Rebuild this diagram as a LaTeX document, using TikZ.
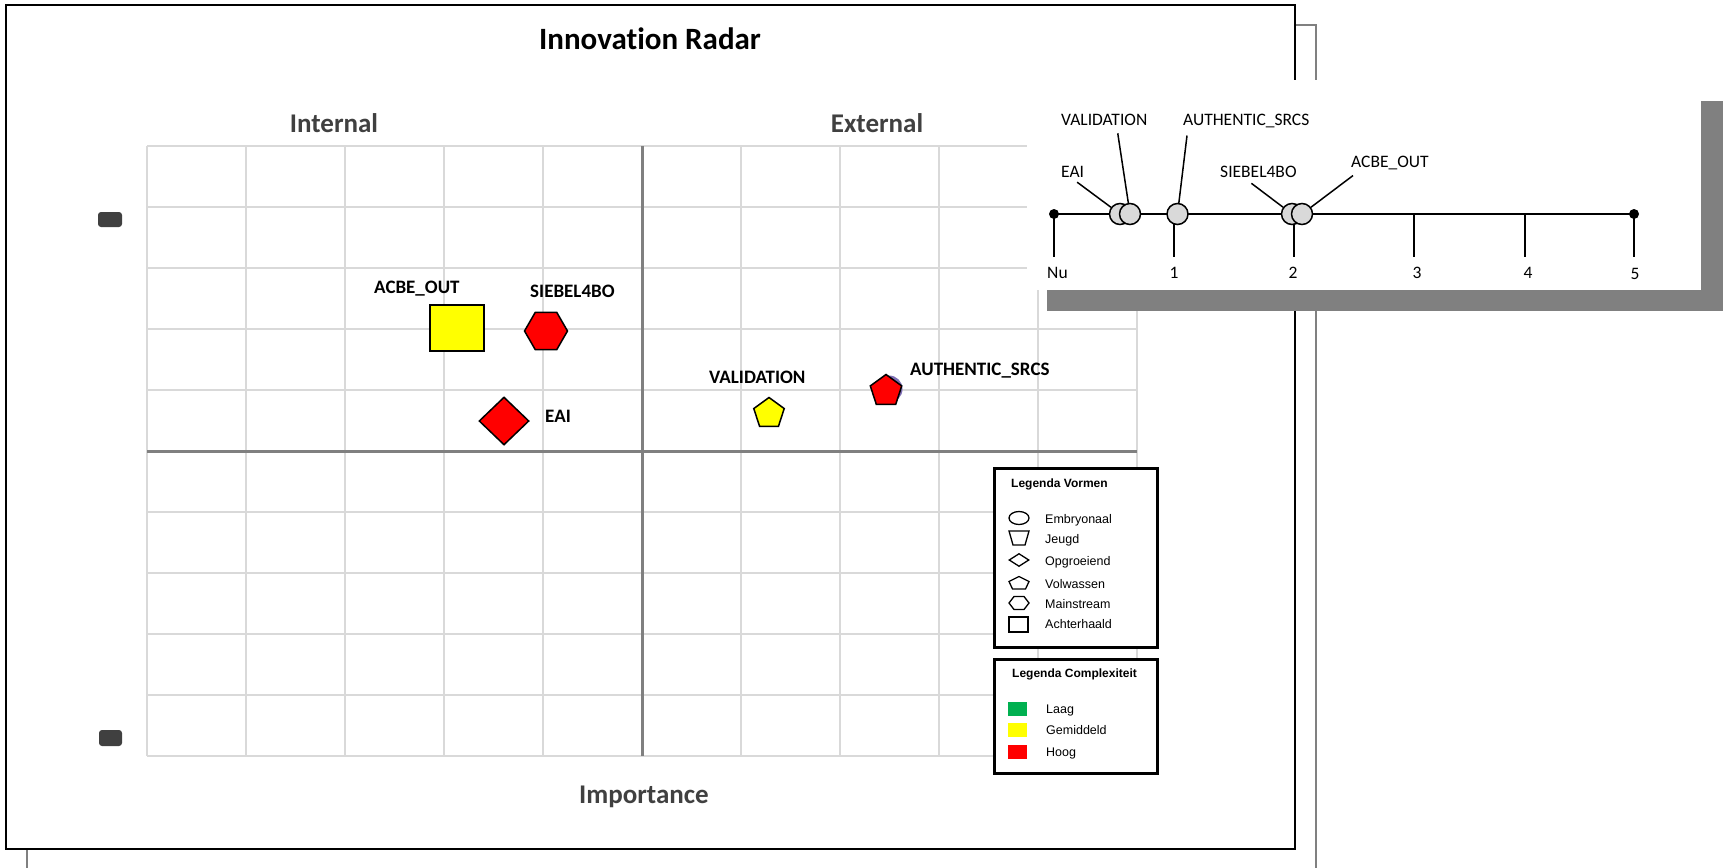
\documentclass[tikz,border=0pt]{standalone}
\usepackage{fontspec}
\setmainfont{Carlito}[Ligatures=NoCommon]
\newfontfamily\arialfont{Liberation Sans}
\usetikzlibrary{shapes.geometric}

\definecolor{gridgray}{HTML}{D9D9D9}
\definecolor{axisgray}{HTML}{808080}
\definecolor{labgray}{HTML}{404040}
\definecolor{dotgray}{HTML}{D9D9D9}
\definecolor{hoog}{HTML}{FF0000}
\definecolor{gemiddeld}{HTML}{FFFF00}
\definecolor{laag}{HTML}{00B050}
\definecolor{purp}{HTML}{7F6FB5}

\begin{document}
\begin{tikzpicture}[x=1pt, y=-1pt]

\tikzstyle{every node} = [inner sep=0]
\tikzstyle{gridln} = [draw=gridgray, line width=2pt]
\tikzstyle{axisln} = [draw=axisgray, line width=3pt]
\tikzstyle{quad} = [text=labgray, font=\bfseries\fontsize{27}{32}\selectfont, anchor=base]
\tikzstyle{itemlbl} = [font=\bfseries\fontsize{19}{23}\selectfont, anchor=base west]
\tikzstyle{item} = [draw=black, line width=1.5pt]
\tikzstyle{tllbl} = [font=\fontsize{17.5}{20}\selectfont, anchor=base west]
\tikzstyle{ticklbl} = [font=\fontsize{17.5}{20}\selectfont, anchor=base]
\tikzstyle{dot} = [circle, draw=black, line width=1.5pt, fill=dotgray, minimum size=21pt]
\tikzstyle{leader} = [line width=1.5pt]
\tikzstyle{legbox} = [draw=black, line width=3pt, fill=white]
\tikzstyle{legtitle} = [font=\arialfont\bfseries\fontsize{12}{14}\selectfont, anchor=base west]
\tikzstyle{legtxt} = [font=\arialfont\fontsize{12.5}{15}\selectfont, anchor=base west]
\tikzstyle{legsym} = [draw=black, line width=1.3pt]

\useasboundingbox (0,0) rectangle (1723,867);
\fill[white] (0,0) rectangle (1723,867);

% sheets
\draw[axisgray, line width=1.5pt] (27,25) rectangle (1316,880);
\draw[black, line width=2pt, fill=white] (6,5) rectangle (1295,849);

% grid
\foreach \i in {0,...,10} {
  \draw[gridln] (147+99*\i,146) -- (147+99*\i,756);
  \draw[gridln] (147,146+61*\i) -- (1137,146+61*\i);
}
\draw[axisln] (642,146) -- (642,756);
\draw[axisln] (147,451) -- (1137,451);

\node[font=\bfseries\fontsize{31}{36}\selectfont, anchor=base] (title) at (650,50) {Innovation Radar};
\node[quad] (internal) at (334,132) {Internal};
\node[quad] (external) at (877,132) {External};
\node[quad] (importance) at (644,803) {Importance};

% axis marks
\fill[labgray, rounded corners=3pt] (98,212) rectangle (122,227);
\fill[labgray, rounded corners=3pt] (99,730) rectangle (122,746);

% items
\node[item, rectangle, fill=gemiddeld, minimum width=54pt, minimum height=46pt] (acbe) at (457,328) {};
\node[item, regular polygon, regular polygon sides=6, fill=hoog, minimum size=43pt] (siebel) at (546,331) {};
\node[item, diamond, fill=hoog, minimum width=50pt, minimum height=48pt] (eai) at (504,421) {};
\node[item, regular polygon, regular polygon sides=5, fill=gemiddeld, minimum size=32pt] (validation) at (769,413.5) {};
\node[circle, fill=purp, minimum size=27pt] (authbg) at (889,389) {};
\node[item, regular polygon, regular polygon sides=5, fill=hoog, minimum size=33pt] (authentic) at (886,391) {};

\node[itemlbl] (lacbe) at (374,293) {ACBE\_OUT};
\node[itemlbl] (lsiebel) at (530,297) {SIEBEL4BO};
\node[itemlbl] (leai) at (545,422) {EAI};
\node[itemlbl] (lvalidation) at (709,383) {VALIDATION};
\node[itemlbl] (lauthentic) at (910,375) {AUTHENTIC\_SRCS};

% legenda vormen
\draw[legbox] (994,468) rectangle (1157,647);
\node[legtitle] (vormen) at (1011,487) {Legenda Vormen};

\node[legsym, ellipse, minimum width=20pt, minimum height=13pt] (semb) at (1019,518) {};
\coordinate (sjeu) at (1019,538);
\draw[legsym] ([shift={(-10,-7)}]sjeu) -- ([shift={(10,-7)}]sjeu) -- ([shift={(6,7)}]sjeu) -- ([shift={(-6,7)}]sjeu) -- cycle;
\node[legsym, diamond, minimum width=20pt, minimum height=13pt] (sopg) at (1019,560) {};
\coordinate (svol) at (1019,583);
\draw[legsym] ([shift={(0,-6.5)}]svol) -- ([shift={(10,-1.5)}]svol) -- ([shift={(6.5,6)}]svol) -- ([shift={(-6.5,6)}]svol) -- ([shift={(-10,-1.5)}]svol) -- cycle;
\coordinate (smai) at (1019,603);
\draw[legsym] ([shift={(-10,0)}]smai) -- ([shift={(-5,-6.5)}]smai) -- ([shift={(5,-6.5)}]smai) -- ([shift={(10,0)}]smai) -- ([shift={(5,6.5)}]smai) -- ([shift={(-5,6.5)}]smai) -- cycle;
\node[legsym, rectangle, minimum width=19pt, minimum height=15pt] (sach) at (1018.5,624.5) {};

\node[legtxt] (temb) at (1045,523) {Embryonaal};
\node[legtxt] (tjeu) at (1045,543) {Jeugd};
\node[legtxt] (topg) at (1045,565) {Opgroeiend};
\node[legtxt] (tvol) at (1045,588) {Volwassen};
\node[legtxt] (tmai) at (1045,608) {Mainstream};
\node[legtxt] (tach) at (1045,628) {Achterhaald};

% legenda complexiteit
\draw[legbox] (994,659) rectangle (1157,773);
\node[legtitle] (complex) at (1012,677) {Legenda Complexiteit};

\node[fill=laag, minimum width=19pt, minimum height=14pt] (claag) at (1017.5,709) {};
\node[fill=gemiddeld, minimum width=19pt, minimum height=14pt] (cgem) at (1017.5,729.5) {};
\node[fill=hoog, minimum width=19pt, minimum height=14pt] (choog) at (1017.5,751.5) {};

\node[legtxt] (tlaag) at (1046,713) {Laag};
\node[legtxt] (tgem) at (1046,734) {Gemiddeld};
\node[legtxt] (thoog) at (1046,756) {Hoog};

% timeline panel
\fill[axisgray] (1047,101) rectangle (1723,311);
\fill[white] (1027,80) rectangle (1701,290);

\coordinate (t0) at (1054,214);
\coordinate (t1) at (1174,214);
\coordinate (t2) at (1294,214);
\coordinate (t3) at (1414,214);
\coordinate (t4) at (1525,214);
\coordinate (t5) at (1634,214);

\draw[line width=2pt] (t0) -- (t5);
\foreach \t in {t0,t1,t2,t3,t4,t5}
  \draw[line width=2pt] (\t) -- ++(0,43);
\node[circle, fill=black, minimum size=10pt] (e0) at (t0) {};
\node[circle, fill=black, minimum size=10pt] (e5) at (t5) {};

\node[tllbl] (n0) at (1047,278) {Nu};
\node[ticklbl] (n1) at (1174,278) {1};
\node[ticklbl] (n2) at (1293,278) {2};
\node[ticklbl] (n3) at (1417,278) {3};
\node[ticklbl] (n4) at (1528,278) {4};
\node[ticklbl] (n5) at (1635,279) {5};

\node[dot] (ceai) at (1120,214) {};
\node[dot] (cval) at (1130,214) {};
\node[dot] (cauth) at (1177.5,214) {};
\node[dot] (csieb) at (1292,214) {};
\node[dot] (cacbe) at (1302,214) {};

\node[tllbl] (tleai) at (1061,177) {EAI};
\node[tllbl] (tlval) at (1061,125) {VALIDATION};
\node[tllbl] (tlauth) at (1183,125) {AUTHENTIC\_SRCS};
\node[tllbl] (tlsieb) at (1220,177) {SIEBEL4BO};
\node[tllbl] (tlacbe) at (1351,167) {ACBE\_OUT};

\draw[leader] ([xshift=4.5pt,yshift=-5pt]tleai.south) -- (ceai);
\draw[leader] ([xshift=13.5pt,yshift=-8pt]tlval.south) -- (cval);
\draw[leader] ([xshift=4pt,yshift=-8pt]tlauth.south west) -- (cauth);
\draw[leader] ([xshift=-7pt,yshift=-6pt]tlsieb.south) -- (csieb);
\draw[leader] ([xshift=2pt,yshift=-6pt]tlacbe.south west) -- (cacbe);

\end{tikzpicture}
\end{document}
